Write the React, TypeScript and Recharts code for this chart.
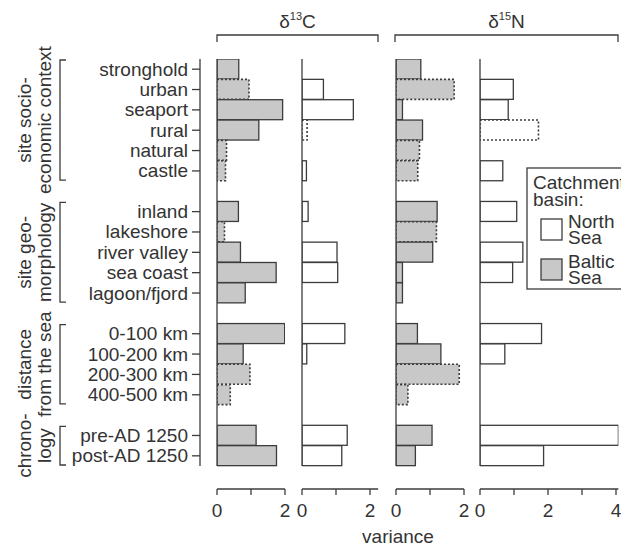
import React from "react"
import { BarChart, Bar, XAxis, YAxis, ReferenceLine } from "recharts"

// row labels, "" = blank row between groups
const categories = [
  "stronghold", "urban", "seaport", "rural", "natural", "castle", "",
  "inland", "lakeshore", "river valley", "sea coast", "lagoon/fjord", "",
  "0-100 km", "100-200 km", "200-300 km", "400-500 km", "",
  "pre-AD 1250", "post-AD 1250",
]

// variances (null = no bar)
const c13Baltic = [0.64, 0.94, 1.93, 1.23, 0.28, 0.25, null, 0.63, 0.22, 0.69, 1.74, 0.83, null, 1.99, 0.77, 0.97, 0.39, null, 1.15, 1.75]
const c13North = [null, 0.63, 1.51, 0.15, null, 0.13, null, 0.18, null, 1.03, 1.05, null, null, 1.26, 0.14, null, null, null, 1.33, 1.17]
const n15Baltic = [0.73, 1.71, 0.19, 0.78, 0.69, 0.64, null, 1.21, 1.19, 1.08, 0.19, 0.19, null, 0.63, 1.32, 1.86, 0.35, null, 1.06, 0.57]
const n15North = [null, 0.98, 0.83, 1.72, null, 0.67, null, 1.08, null, 1.26, 0.96, null, null, 1.81, 0.73, null, null, null, 4.07, 1.87]

// bars drawn with a dotted outline
const c13BalticDotted = ["urban", "natural", "castle", "lakeshore", "200-300 km", "400-500 km"]
const c13NorthDotted = ["rural"]
const n15BalticDotted = ["urban", "natural", "castle", "lakeshore", "200-300 km", "400-500 km"]
const n15NorthDotted = ["rural"]

const groups = [
  { lines: ["site socio-", "economic context"], start: 0, count: 6 },
  { lines: ["site geo-", "morphology"], start: 7, count: 5 },
  { lines: ["distance", "from the sea"], start: 13, count: 4 },
  { lines: ["chrono-", "logy"], start: 18, count: 2 },
]

const legendItems = [
  { label: ["North", "Sea"], fill: "#ffffff" },
  { label: ["Baltic", "Sea"], fill: "#c8c8c8" },
]

const data = categories.map((name, i) => ({
  name,
  c13Baltic: c13Baltic[i],
  c13North: c13North[i],
  n15Baltic: n15Baltic[i],
  n15North: n15North[i],
}))

const FONT = "'Liberation Sans', Arial, sans-serif"
const INK = "#333"
const LINE = "#3c3c3c"
const GREY = "#c8c8c8"
const TOP = 59
const PLOT_H = 407
const ROW_H = PLOT_H / categories.length
const PX = 34 // px per variance unit

const panels = [
  { key: "c13Baltic", zero: 217, max: 2, ticks: [0, 1, 2], fill: GREY, dotted: c13BalticDotted },
  { key: "c13North", zero: 302, max: 2.24, ticks: [0, 1, 2], fill: "#fff", dotted: c13NorthDotted },
  { key: "n15Baltic", zero: 396, max: 2, ticks: [0, 1, 2], fill: GREY, dotted: n15BalticDotted },
  { key: "n15North", zero: 480, max: 4.07, ticks: [0, 1, 2, 3, 4], fill: "#fff", dotted: n15NorthDotted },
]

const makeShape = (fill: string, dotted: string[]) => (props: any) => {
  const { x, y, width, height, index } = props
  if (width == null || Math.abs(width) < 0.5) return <g />
  const name = props.payload?.name ?? categories[index]
  const dot = dotted.includes(name)
  return (
    <rect
      x={x}
      y={y}
      width={width}
      height={height}
      fill={fill}
      stroke={LINE}
      strokeWidth={dot ? 1.6 : 1.3}
      strokeDasharray={dot ? "2 2" : undefined}
    />
  )
}

function CategoryTick(props: any) {
  const { x, y, payload } = props
  if (!payload.value) return <g />
  return (
    <g>
      <line x1={x + 4} x2={x + 12} y1={y} y2={y} stroke={LINE} strokeWidth={1.3} />
      <text x={x} y={y} dy={6.5} textAnchor="end" fontSize={19} fill={INK} fontFamily={FONT}>
        {payload.value}
      </text>
    </g>
  )
}

function LabelAxis() {
  return (
    <div style={{ position: "absolute", left: 0, top: TOP }}>
      <BarChart width={201} height={PLOT_H} data={data} layout="vertical" margin={{ top: 0, right: 0, bottom: 0, left: 0 }}>
        <XAxis type="number" hide />
        <YAxis
          type="category"
          dataKey="name"
          width={200}
          tickSize={8}
          tickMargin={4}
          tickLine={false}
          tick={<CategoryTick />}
          interval={0}
          axisLine={{ stroke: LINE, strokeWidth: 1.3 }}
        />
      </BarChart>
    </div>
  )
}

function Panel({ p }: { p: (typeof panels)[number] }) {
  const pad = 12
  return (
    <div style={{ position: "absolute", left: p.zero - pad, top: TOP }}>
      <BarChart
        width={p.max * PX + pad * 2}
        height={PLOT_H + 23 + 50}
        data={data}
        layout="vertical"
        barCategoryGap={0}
        margin={{ top: 0, right: pad, bottom: 0, left: pad }}
      >
        <XAxis xAxisId="s" type="number" domain={[0, p.max]} allowDataOverflow height={23} axisLine={false} tickLine={false} tick={false} />
        <XAxis
          xAxisId="v"
          type="number"
          domain={[0, p.max]}
          allowDataOverflow
          ticks={p.ticks}
          interval={0}
          height={50}
          tickSize={6}
          tickMargin={9}
          tickFormatter={(v: number) => (v % 2 === 0 ? String(v) : "")}
          axisLine={{ stroke: LINE, strokeWidth: 1.3 }}
          tickLine={{ stroke: LINE, strokeWidth: 1.3 }}
          tick={{ fontSize: 19, fill: INK, fontFamily: FONT }}
        />
        <YAxis type="category" dataKey="name" hide />
        <ReferenceLine xAxisId="v" x={0} stroke={LINE} strokeWidth={1.3} />
        <Bar xAxisId="v" dataKey={p.key} isAnimationActive={false} shape={makeShape(p.fill, p.dotted)} />
      </BarChart>
    </div>
  )
}

function Overlay() {
  const headers = [
    { sup: "13", el: "C", x0: 217, x1: 378 },
    { sup: "15", el: "N", x0: 395, x1: 618 },
  ]
  return (
    <svg width={621} height={545} style={{ position: "absolute", left: 0, top: 0, pointerEvents: "none" }} fontFamily={FONT}>
      {headers.map((h) => (
        <g key={h.el}>
          <text x={(h.x0 + h.x1) / 2} y={28} textAnchor="middle" fontSize={19} fill={INK}>
            δ<tspan fontSize={11} dy={-8}>{h.sup}</tspan>
            <tspan dy={8}>{h.el}</tspan>
          </text>
          <path d={`M${h.x0},42 V35 H${h.x1} V42`} fill="none" stroke={LINE} strokeWidth={1.3} />
        </g>
      ))}
      {groups.map((g) => {
        const y0 = TOP + g.start * ROW_H + 1
        const y1 = TOP + (g.start + g.count) * ROW_H - 1
        const cy = (y0 + y1) / 2
        return (
          <g key={g.lines[0]}>
            <path d={`M66,${y0} H60 V${y1} H66`} fill="none" stroke={LINE} strokeWidth={1.3} />
            {g.lines.map((t, i) => (
              <text key={t} transform={`translate(${31 + i * 20},${cy}) rotate(-90)`} textAnchor="middle" fontSize={19} fill={INK}>
                {t}
              </text>
            ))}
          </g>
        )
      })}
      <text x={398} y={543} textAnchor="middle" fontSize={19} fill={INK}>variance</text>
      <g>
        <rect x={527} y={168} width={110} height={121} fill="#fff" stroke={LINE} strokeWidth={1.3} />
        <text x={533} y={189} fontSize={19} fill={INK}>Catchment</text>
        <text x={533} y={206} fontSize={19} fill={INK}>basin:</text>
        {legendItems.map((it, i) => (
          <g key={it.label[0]}>
            <rect x={541} y={219 + i * 40} width={21} height={21} fill={it.fill} stroke={LINE} strokeWidth={1.3} />
            <text x={568} y={228 + i * 40} fontSize={19} fill={INK}>{it.label[0]}</text>
            <text x={568} y={244 + i * 40} fontSize={19} fill={INK}>{it.label[1]}</text>
          </g>
        ))}
      </g>
    </svg>
  )
}

export default function App() {
  return (
    <div style={{ position: "absolute", left: 0, top: 0, width: 621, height: 545, background: "#fff", overflow: "hidden", fontFamily: FONT }}>
      <LabelAxis />
      {panels.map((p) => (
        <Panel key={p.key} p={p} />
      ))}
      <Overlay />
    </div>
  )
}
